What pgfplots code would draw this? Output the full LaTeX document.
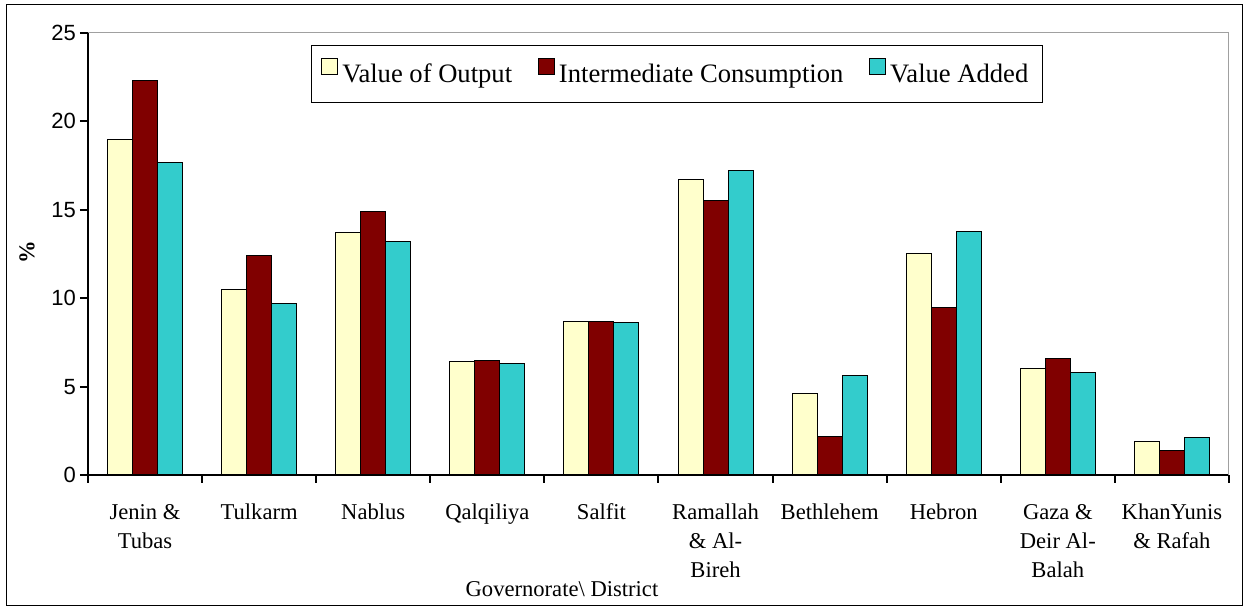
\documentclass[border=0pt]{standalone}
\usepackage{fontspec}
\setmainfont{Liberation Serif}
\setsansfont{Liberation Sans}
\usepackage{pgfplots}
\pgfplotsset{compat=1.18}
\definecolor{voy}{HTML}{FFFFCC}
\definecolor{icr}{HTML}{800000}
\definecolor{vac}{HTML}{33CCCC}
\definecolor{framegray}{HTML}{A0A0A0}
\begin{document}
\begin{tikzpicture}
\path (-44pt,-66.5pt) rectangle (578pt,237.5pt);
\draw[line width=0.5pt] (-40.5pt,-65.5pt) rectangle (577pt,235pt);
\begin{axis}[
  at={(0pt,0pt)}, anchor=south west,
  scale only axis, width=570.5pt, height=221pt,
  xmin=-0.5, xmax=9.5, ymin=0, ymax=25,
  ybar=0pt, bar width=12.5pt,
  axis x line*=bottom, axis y line*=left,
  axis line style={line width=1pt},
  xtick={0,...,9},
  xticklabels={{Jenin \&\\Tubas},Tulkarm,Nablus,Qalqiliya,Salfit,{Ramallah\\\& Al-\\Bireh},Bethlehem,Hebron,{Gaza \&\\Deir Al-\\Balah},{KhanYunis\\\& Rafah}},
  minor xtick={-0.5,0.5,...,9.5},
  major x tick style={draw=none},
  ytick={0,5,...,25},
  /pgf/number format/assume math mode=true,
  tick align=outside, major tick length=4pt, minor tick length=4pt,
  tick style={line width=1pt, black},
  x tick label style={align=center, font=\fontsize{11.3}{14.5}\selectfont, anchor=north, yshift=-7pt},
  y tick label style={font=\sffamily\fontsize{11}{13}\selectfont, xshift=1.5pt},
  xlabel={Governorate\textbackslash\ District},
  xlabel style={at={(axis description cs:0.4154,-0.276)}, anchor=base, font=\fontsize{11.3}{14}\selectfont},
  ylabel={\%},
  ylabel style={at={(axis description cs:-0.0535,0.505)}, anchor=center, font=\bfseries\fontsize{11.3}{14}\selectfont},
  legend columns=3,
  legend image code/.code={\draw[#1,draw=black,line width=0.4pt] (0pt,0pt) rectangle (8pt,8pt);},
  legend style={at={(0.1954,0.973)}, anchor=north west, draw=black, line width=0.5pt,
    font=\fontsize{13.3}{16}\selectfont, inner xsep=5pt, inner ysep=6.5pt,
    /tikz/every even column/.append style={column sep=11pt}},
]
\draw[framegray, line width=0.5pt] (rel axis cs:0,1) -- (rel axis cs:1,1) -- (rel axis cs:1,0);
\addplot[fill=voy, draw=black, line width=0.5pt] coordinates {(0,19.0) (1,10.5) (2,13.7) (3,6.4) (4,8.7) (5,16.7) (6,4.6) (7,12.5) (8,6.0) (9,1.9)};
\addplot[fill=icr, draw=black, line width=0.5pt] coordinates {(0,22.3) (1,12.4) (2,14.9) (3,6.5) (4,8.7) (5,15.5) (6,2.2) (7,9.5) (8,6.6) (9,1.4)};
\addplot[fill=vac, draw=black, line width=0.5pt] coordinates {(0,17.7) (1,9.7) (2,13.2) (3,6.3) (4,8.6) (5,17.2) (6,5.6) (7,13.8) (8,5.8) (9,2.1)};
\legend{Value of Output, Intermediate Consumption, Value Added}
\end{axis}
\end{tikzpicture}
\end{document}
